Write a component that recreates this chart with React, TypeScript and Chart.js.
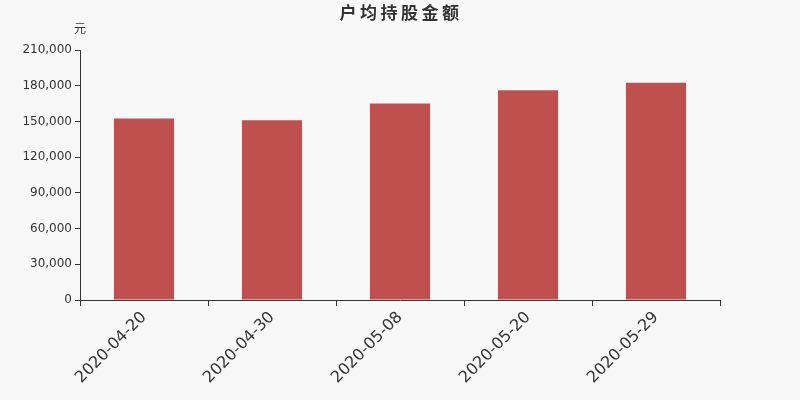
import React, { useEffect, useRef } from 'react';
import { Chart, registerables } from 'chart.js';

Chart.register(...registerables);

const dates = ['2020-04-20', '2020-04-30', '2020-05-08', '2020-05-20', '2020-05-29'];
const amounts = [152400, 150900, 165000, 176100, 182500];
const yMax = 210000;
const yStep = 30000;

const titleText = '户均持股金额';
const unitText = '元';

const headerPlugin = {
  id: 'header',
  afterDraw(chart: Chart) {
    const ctx = chart.ctx;
    ctx.save();
    ctx.fillStyle = '#333';
    ctx.textAlign = 'center';
    ctx.textBaseline = 'middle';
    ctx.font = 'bold 17px "Noto Sans CJK SC", "DejaVu Sans", sans-serif';
    let x = 348;
    for (const ch of titleText) {
      ctx.fillText(ch, x, 13);
      x += 20.5;
    }
    ctx.font = '12px "Noto Sans CJK SC", "DejaVu Sans", sans-serif';
    ctx.fillText(unitText, 80, 28);
    ctx.restore();
  },
};

const App: React.FC = () => {
  const canvasRef = useRef<HTMLCanvasElement>(null);

  useEffect(() => {
    document.body.style.margin = '0';
    document.body.style.background = '#f8f8f8';
    if (!canvasRef.current) return;
    const chart = new Chart(canvasRef.current, {
      type: 'bar',
      data: {
        labels: dates,
        datasets: [{
          data: amounts,
          backgroundColor: '#c0504d',
          barPercentage: 0.47,
          categoryPercentage: 1,
        }],
      },
      options: {
        responsive: false,
        animation: false,
        layout: { padding: { top: 50, right: 80, left: 0, bottom: 0 } },
        plugins: { legend: { display: false }, title: { display: false }, tooltip: { enabled: false } },
        scales: {
          x: {
            grid: { display: true, drawOnChartArea: false, drawTicks: true, tickLength: 6, color: '#333', offset: true },
            border: { color: '#333' },
            ticks: {
              color: '#333',
              font: { size: 16, family: '"DejaVu Sans", sans-serif' },
              maxRotation: 45,
              minRotation: 45,
              padding: 2,
            },
            afterFit: (s: any) => { s.height = 100; },
          },
          y: {
            min: 0,
            max: yMax,
            grid: { display: true, drawOnChartArea: false, drawTicks: true, tickLength: 5, color: '#333' },
            border: { color: '#333' },
            ticks: {
              stepSize: yStep,
              color: '#333',
              font: { size: 12, family: '"DejaVu Sans", sans-serif' },
              padding: 3,
              callback: (v: any) => Number(v).toLocaleString('en-US'),
            },
            afterFit: (s: any) => { s.width = 80; },
          },
        },
      },
      plugins: [headerPlugin],
    });
    return () => chart.destroy();
  }, []);

  return (
    <div style={{ width: 800, height: 400, background: '#f8f8f8' }}>
      <canvas ref={canvasRef} width={800} height={400} style={{ display: 'block' }} />
    </div>
  );
};

export default App;
